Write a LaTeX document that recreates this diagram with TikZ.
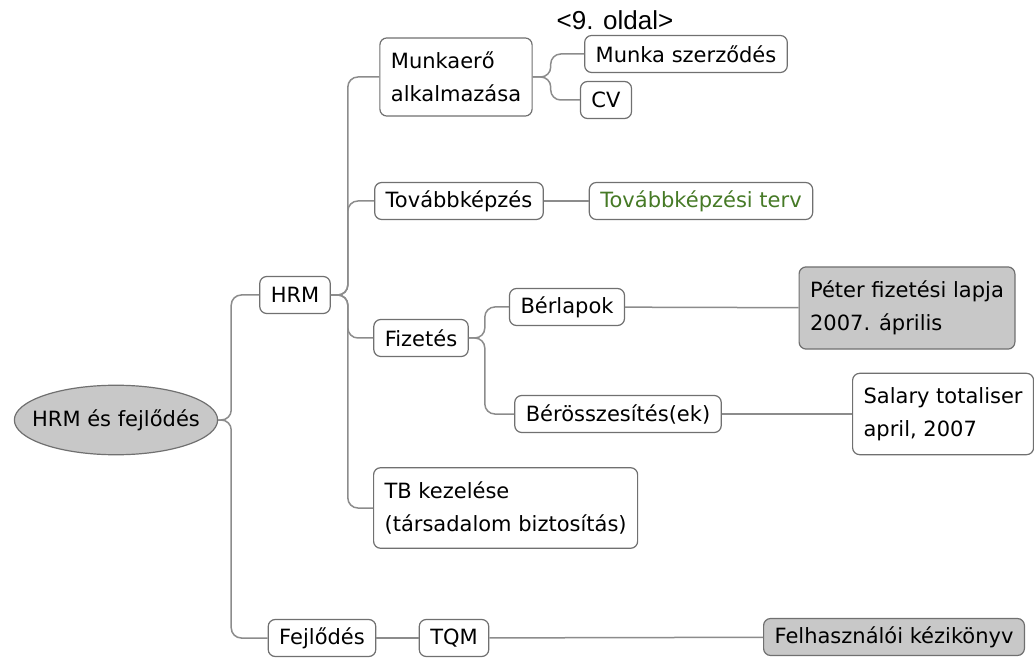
\documentclass[tikz,border=0pt]{standalone}
\usepackage{fontspec}
\setmainfont{DejaVu Sans}
\newfontfamily\pagefont{Liberation Sans}
\usetikzlibrary{shapes.geometric}
\definecolor{boxline}{RGB}{112,112,112}
\definecolor{linkgray}{RGB}{140,140,140}
\definecolor{fillgray}{RGB}{200,200,200}
\definecolor{plangreen}{RGB}{70,122,38}
\tikzstyle{topic} = [draw=boxline, rounded corners=7pt, line width=1.2pt, fill=white, inner xsep=11pt, inner ysep=4pt, minimum height=37pt, font=\fontsize{21}{33}\selectfont]
\tikzstyle{twoline} = [topic, align=left, inner ysep=14pt]
\tikzstyle{shaded} = [fill=fillgray]
\tikzstyle{main} = [ellipse, draw=boxline, fill=fillgray, line width=1.2pt, inner xsep=-12pt, inner ysep=14pt, font=\fontsize{21}{25}\selectfont]
\tikzstyle{link} = [draw=linkgray, line width=1.5pt, rounded corners=10pt]

\begin{document}
\begin{tikzpicture}[x=1pt,y=-1pt]
\useasboundingbox (0,0) rectangle (1034,660);
\fill [white] (0,0) rectangle (1034,660);

\node (root) [main] at (116,420) {HRM és fejlődés};
\node (hrm) [topic] at (295,295) {HRM};
\node (munka) [twoline] at (456,77) {Munkaerő\\alkalmazása};
\node (szerz) [topic] at (686,54) {Munka szerződés};
\node (cv) [topic] at (606,100) {CV};
\node (oldal) [font=\pagefont\fontsize{26}{30}\selectfont, inner sep=0pt] at (615,20) {<9. oldal>};
\node (tovabb) [topic] at (459,201) {Továbbképzés};
\node (terv) [topic, text=plangreen] at (701,201) {Továbbképzési terv};
\node (fiz) [topic] at (421,338) {Fizetés};
\node (berlap) [topic] at (567,307) {Bérlapok};
\node (peter) [twoline, shaded] at (907,308) {Péter fizetési lapja\\2007. április};
\node (berossz) [topic] at (618,414) {Bérösszesítés(ek)};
\node (salary) [twoline, anchor=west] at (852,414) {Salary totaliser\\april, 2007};
\node (tb) [twoline, anchor=west] at (373,508) {TB kezelése\\(társadalom biztosítás)};
\node (fejl) [topic] at (322,638) {Fejlődés};
\node (tqm) [topic] at (454,638) {TQM};
\node (kezi) [topic, shaded] at (894,637) {Felhasználói kézikönyv};

\draw [link] (root.east) -- ++(13,0) |- (hrm.west);
\draw [link] (root.east) -- ++(13,0) |- (fejl.west);
\draw [link] (hrm.east) -- ++(17,0) |- (munka.west);
\draw [link] (hrm.east) -- ++(17,0) |- (tovabb.west);
\draw [link] (hrm.east) -- ++(17,0) |- (fiz.west);
\draw [link] (hrm.east) -- ++(17,0) |- (tb.west);
\draw [link] (munka.east) -- ++(18,0) |- (szerz.west);
\draw [link] (munka.east) -- ++(18,0) |- (cv.west);
\draw [link] (tovabb) -- (terv);
\draw [link] (fiz.east) -- ++(16,0) |- (berlap.west);
\draw [link] (fiz.east) -- ++(16,0) |- (berossz.west);
\draw [link] (berlap) -- (peter);
\draw [link] (berossz) -- (salary);
\draw [link] (fejl) -- (tqm);
\draw [link] (tqm) -- (kezi);

\end{tikzpicture}
\end{document}
